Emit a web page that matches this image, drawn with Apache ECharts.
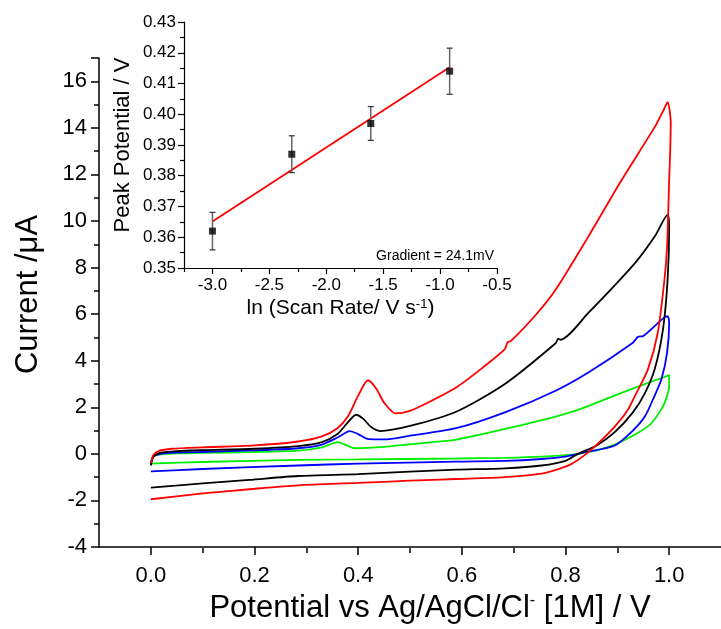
<!DOCTYPE html>
<html>
<head>
<meta charset="utf-8">
<script src="https://cdn.jsdelivr.net/npm/echarts@6/dist/echarts.min.js"></script>
<style>
  html, body { margin: 0; padding: 0; background: #fff; }
  #main { width: 721px; height: 629px; }
</style>
</head>
<body>
<div id="main"></div>
<script>
// main CV curves: potential (V) and current (uA) in scan order
var redV = [0.0, 0.005, 0.015, 0.04, 0.1, 0.2, 0.284, 0.33, 0.36, 0.38, 0.40, 0.419, 0.435, 0.45, 0.472, 0.5, 0.53, 0.589, 0.64, 0.683, 0.688, 0.695, 0.74, 0.781, 0.844, 0.908, 0.972, 0.99, 0.997, 1.003, 1.002, 1.0, 0.996, 0.991, 0.978, 0.959, 0.934, 0.921, 0.9, 0.87, 0.84, 0.81, 0.78, 0.754, 0.683, 0.589, 0.5, 0.4, 0.284, 0.19, 0.1, 0.0];
var redI = [-0.4, -0.05, 0.12, 0.22, 0.28, 0.36, 0.53, 0.75, 1.1, 1.6, 2.5, 3.16, 2.8, 2.2, 1.74, 1.85, 2.15, 2.85, 3.7, 4.5, 4.78, 4.85, 5.9, 7.05, 9.33, 11.75, 14.03, 14.8, 15.1, 14.24, 13.0, 11.75, 8.9, 7.5, 5.2, 3.63, 2.49, 1.92, 1.3, 0.6, 0.0, -0.45, -0.7, -0.85, -1.0, -1.08, -1.15, -1.25, -1.35, -1.52, -1.7, -1.95];

var blackV = [0.0, 0.005, 0.02, 0.05, 0.1, 0.2, 0.284, 0.33, 0.36, 0.38, 0.396, 0.41, 0.425, 0.442, 0.5, 0.589, 0.683, 0.781, 0.786, 0.79, 0.844, 0.934, 0.972, 0.997, 1.0, 0.997, 0.988, 0.972, 0.953, 0.93, 0.895, 0.86, 0.824, 0.8, 0.754, 0.683, 0.589, 0.5, 0.4, 0.284, 0.19, 0.1, 0.0];
var blackI = [-0.5, -0.12, 0.05, 0.12, 0.16, 0.22, 0.33, 0.5, 0.85, 1.35, 1.68, 1.5, 1.15, 0.98, 1.2, 1.81, 3.0, 4.75, 4.95, 4.9, 6.05, 8.19, 9.33, 10.26, 9.76, 7.48, 5.34, 3.63, 2.6, 1.78, 0.93, 0.36, 0.0, -0.3, -0.5, -0.62, -0.68, -0.76, -0.87, -0.95, -1.12, -1.27, -1.45];

var blueV = [0.0, 0.005, 0.02, 0.05, 0.1, 0.2, 0.284, 0.33, 0.36, 0.384, 0.4, 0.42, 0.45, 0.5, 0.589, 0.683, 0.781, 0.844, 0.93, 0.94, 0.95, 0.99, 0.997, 1.0, 0.996, 0.985, 0.969, 0.953, 0.93, 0.895, 0.838, 0.8, 0.754, 0.683, 0.589, 0.4, 0.284, 0.1, 0.0];
var blueI = [-0.45, -0.12, 0.0, 0.05, 0.08, 0.15, 0.24, 0.4, 0.7, 0.98, 0.85, 0.63, 0.62, 0.78, 1.10, 1.78, 2.71, 3.49, 4.77, 5.03, 5.06, 5.85, 5.91, 5.63, 4.35, 3.2, 2.35, 1.6, 1.0, 0.36, 0.07, -0.12, -0.22, -0.3, -0.33, -0.42, -0.5, -0.65, -0.75];

var greenV = [0.0, 0.005, 0.02, 0.05, 0.1, 0.2, 0.284, 0.33, 0.361, 0.38, 0.393, 0.45, 0.542, 0.589, 0.683, 0.781, 0.832, 0.908, 0.972, 1.0, 1.0, 0.994, 0.985, 0.965, 0.93, 0.881, 0.824, 0.754, 0.683, 0.589, 0.4, 0.284, 0.1, 0.0];
var greenI = [-0.38, -0.1, -0.02, 0.02, 0.04, 0.08, 0.14, 0.28, 0.5, 0.34, 0.24, 0.3, 0.5, 0.61, 1.07, 1.6, 1.95, 2.62, 3.15, 3.38, 2.92, 2.35, 1.92, 1.3, 0.78, 0.29, 0.0, -0.12, -0.17, -0.2, -0.24, -0.26, -0.35, -0.42];

// main x ticks
var mainMajorX = [0.0, 0.2, 0.4, 0.6, 0.8, 1.0];
var mainMinorX = [0.1, 0.3, 0.5, 0.7, 0.9];

// inset: peak potential vs ln(scan rate)
var lnRate = [-3.0, -2.303, -1.609, -0.916];
var peakV = [0.362, 0.387, 0.397, 0.414];
var peakErr = [0.0061, 0.006, 0.0055, 0.0075];
var fitX = [-3.0, -0.916];
var fitY = [0.3651, 0.4153];
var insetMajorX = [-3.0, -2.5, -2.0, -1.5, -1.0, -0.5];
var insetMinorX = [-3.25, -2.75, -2.25, -1.75, -1.25, -0.75];

function pairs(xs, ys) {
    var out = [];
    for (var i = 0; i < xs.length; i++) out.push([xs[i], ys[i]]);
    return out;
}

var font = 'Arial, "Liberation Sans", sans-serif';
var myChart = echarts.init(document.getElementById('main'));

function cv(name, color, xs, ys) {
    return {
        name: name, type: 'line', xAxisIndex: 0, yAxisIndex: 0,
        data: pairs(xs, ys), showSymbol: false, smooth: 0.25,
        lineStyle: { color: color, width: 1.8 }, z: 3
    };
}

var errData = [];
for (var i = 0; i < lnRate.length; i++) {
    errData.push([lnRate[i], peakV[i] - peakErr[i], peakV[i] + peakErr[i]]);
}

// grid boxes
var mainTop = 58, mainBottom = 81, insetTop = 22, insetBottom = 361;
var mainH = 629 - mainTop - mainBottom;
var insetH = 629 - insetTop - insetBottom;

var option = {
    animation: false,
    backgroundColor: '#fff',
    textStyle: { fontFamily: font },
    grid: [
        { left: 99, right: -6, top: mainTop, bottom: mainBottom },
        { left: 184, right: 224, top: insetTop, bottom: insetBottom }
    ],
    xAxis: [
        {
            type: 'value', gridIndex: 0, position: 'bottom', min: -0.1, max: 1.1, interval: 0.1,
            name: 'Potential vs Ag/AgCl/Cl{sup|-} [1M] / V',
            nameLocation: 'middle', nameGap: 46,
            nameTextStyle: {
                fontSize: 31, color: '#000', fontFamily: font, padding: [0, 0, 0, 40],
                rich: { sup: { fontSize: 16, verticalAlign: 'top', lineHeight: 14, color: '#000' } }
            },
            axisLine: { onZero: false, lineStyle: { color: '#000', width: 1.5 } },
            axisTick: { length: 8, customValues: mainMajorX, lineStyle: { color: '#000', width: 1.5 } },
            axisLabel: { fontSize: 22, color: '#000', margin: 18, customValues: mainMajorX,
                formatter: function (v) { return v.toFixed(1); } },
            splitLine: { show: false }
        },
        {
            type: 'value', gridIndex: 1, position: 'bottom', min: -3.25, max: -0.5, interval: 0.25,
            name: 'ln (Scan Rate/ V s{sup|-1})',
            nameLocation: 'middle', nameGap: 30,
            nameTextStyle: {
                fontSize: 21, color: '#000', fontFamily: font,
                rich: { sup: { fontSize: 13, verticalAlign: 'top', lineHeight: 12, color: '#000' } }
            },
            axisLine: { onZero: false, lineStyle: { color: '#000', width: 1.2 } },
            axisTick: { length: 6, customValues: insetMajorX, lineStyle: { color: '#000', width: 1.2 } },
            axisLabel: { fontSize: 17, color: '#000', margin: 9, customValues: insetMajorX,
                formatter: function (v) { return v.toFixed(1); } },
            splitLine: { show: false }
        },
        {
            // minor ticks of the main x axis, moved down onto the bottom line
            type: 'value', gridIndex: 0, position: 'top', offset: -mainH,
            min: -0.1, max: 1.1, interval: 0.1,
            axisLine: { show: false, onZero: false },
            axisTick: { inside: true, length: 5, customValues: mainMinorX, lineStyle: { color: '#000', width: 1.5 } },
            axisLabel: { show: false },
            splitLine: { show: false }
        },
        {
            type: 'value', gridIndex: 1, position: 'top', offset: -insetH,
            min: -3.25, max: -0.5, interval: 0.25,
            axisLine: { show: false, onZero: false },
            axisTick: { inside: true, length: 4, customValues: insetMinorX, lineStyle: { color: '#000', width: 1.2 } },
            axisLabel: { show: false },
            splitLine: { show: false }
        }
    ],
    yAxis: [
        {
            type: 'value', gridIndex: 0, min: -4, max: 17, interval: 2,
            name: 'Current /\u03bcA',
            nameLocation: 'middle', nameGap: 55,
            nameTextStyle: { fontSize: 31, color: '#000', fontFamily: font, padding: [0, 0, 0, 16] },
            axisLine: { onZero: false, lineStyle: { color: '#000', width: 1.5 } },
            axisTick: { length: 8, lineStyle: { color: '#000', width: 1.5 } },
            minorTick: { show: true, splitNumber: 2, length: 5, lineStyle: { color: '#000', width: 1.5 } },
            axisLabel: { fontSize: 22, color: '#000', margin: 12, showMaxLabel: false },
            splitLine: { show: false }
        },
        {
            type: 'value', gridIndex: 1, min: 0.35, max: 0.43, interval: 0.01,
            name: 'Peak Potential / V',
            nameLocation: 'middle', nameGap: 50,
            nameTextStyle: { fontSize: 22, color: '#000', fontFamily: font },
            axisLine: { onZero: false, lineStyle: { color: '#000', width: 1.2 } },
            axisTick: { length: 6, lineStyle: { color: '#000', width: 1.2 } },
            minorTick: { show: true, splitNumber: 2, length: 4, lineStyle: { color: '#000', width: 1.2 } },
            axisLabel: { fontSize: 17, color: '#000', margin: 8, formatter: function (v) { return v.toFixed(2); } },
            splitLine: { show: false }
        }
    ],
    graphic: [
        {
            type: 'text', right: 721 - 494, top: 249,
            style: { text: 'Gradient = 24.1mV', fontSize: 14, fill: '#000', fontFamily: font }
        }
    ],
    series: [
        cv('0.05', '#00ee00', greenV, greenI),
        cv('0.1', '#0000ff', blueV, blueI),
        cv('0.2', '#000000', blackV, blackI),
        cv('0.4', '#ff0000', redV, redI),
        {
            name: 'fit', type: 'line', xAxisIndex: 1, yAxisIndex: 1,
            data: pairs(fitX, fitY), showSymbol: false,
            lineStyle: { color: '#ff0000', width: 1.8 }, z: 3
        },
        {
            name: 'err', type: 'custom', xAxisIndex: 1, yAxisIndex: 1,
            data: errData, z: 4,
            renderItem: function (params, api) {
                var lo = api.coord([api.value(0), api.value(1)]);
                var hi = api.coord([api.value(0), api.value(2)]);
                var w = 3;
                var st = { stroke: '#333', lineWidth: 1.2 };
                return {
                    type: 'group',
                    children: [
                        { type: 'line', shape: { x1: lo[0], y1: lo[1], x2: hi[0], y2: hi[1] }, style: { stroke: '#666', lineWidth: 1.5 } },
                        { type: 'line', shape: { x1: lo[0] - w, y1: lo[1], x2: lo[0] + w, y2: lo[1] }, style: st },
                        { type: 'line', shape: { x1: hi[0] - w, y1: hi[1], x2: hi[0] + w, y2: hi[1] }, style: st }
                    ]
                };
            }
        },
        {
            name: 'peaks', type: 'scatter', xAxisIndex: 1, yAxisIndex: 1,
            data: pairs(lnRate, peakV), symbol: 'rect', symbolSize: 7,
            itemStyle: { color: '#000' }, z: 5
        }
    ]
};
myChart.setOption(option);
</script>
</body>
</html>
